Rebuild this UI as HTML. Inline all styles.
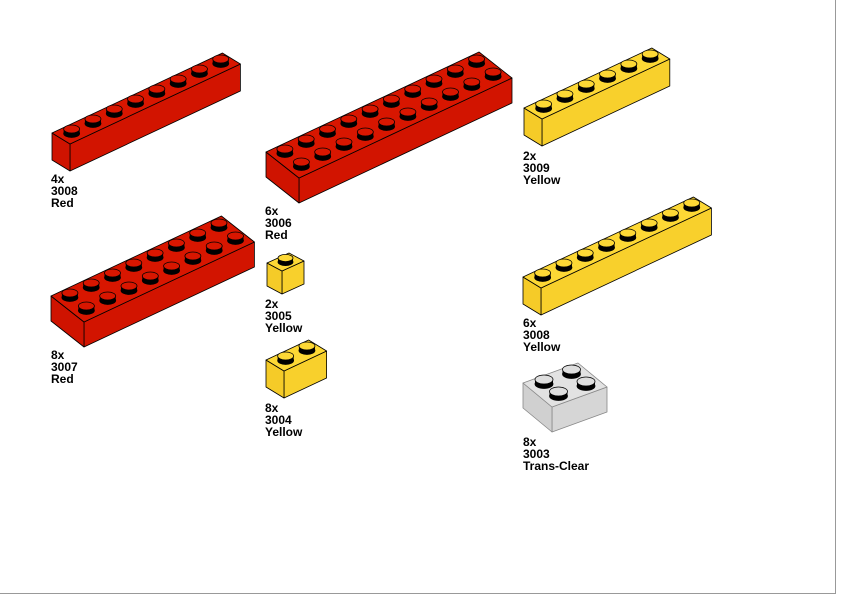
<!DOCTYPE html>
<html><head><meta charset="utf-8">
<style>
html,body{margin:0;padding:0;background:#fff;}
body{width:842px;height:596px;position:relative;overflow:hidden;font-family:"Liberation Sans",sans-serif;}
.lb{position:absolute;font-weight:bold;font-size:12px;line-height:12px;color:#000;}
#frame{position:absolute;left:0;top:0;width:835px;height:593px;border-right:1px solid #999;border-bottom:1px solid #999;}
</style></head><body>
<div id="frame"></div>
<svg id="s" width="842" height="596" style="position:absolute;left:0;top:0"></svg>
<div class="lb" style="left:51px;top:173px">4x<br>3008<br>Red</div>
<div class="lb" style="left:51px;top:349px">8x<br>3007<br>Red</div>
<div class="lb" style="left:265px;top:205px">6x<br>3006<br>Red</div>
<div class="lb" style="left:265px;top:298px">2x<br>3005<br>Yellow</div>
<div class="lb" style="left:265px;top:402px">8x<br>3004<br>Yellow</div>
<div class="lb" style="left:523px;top:150px">2x<br>3009<br>Yellow</div>
<div class="lb" style="left:523px;top:317px">6x<br>3008<br>Yellow</div>
<div class="lb" style="left:523px;top:436px">8x<br>3003<br>Trans-Clear</div>
<script>
var s=document.getElementById('s'),out='';
function p(a){return a.map(function(q){return q[0].toFixed(1)+','+q[1].toFixed(1)}).join(' ');}
function brick(x,y,n,m,top,side,end,o){
 o=o||{};
 var L=o.L||[21.3,-10],W=o.W||[-18,-11],H=o.H||27,rx=o.rx||8,ry=o.ry||4,sh=o.sh||4.5,sc=o.sc||'#000',stt=o.stt||top;
 var T=[x,y-H];
 function add(a,i,j){return [a[0]+i*L[0]+j*W[0],a[1]+i*L[1]+j*W[1]];}
 var g='<g stroke="'+sc+'" stroke-width="0.8" stroke-linejoin="round">';
 g+='<polygon points="'+p([[x,y],add([x,y],n,0),add(T,n,0),T])+'" fill="'+side+'"/>';
 g+='<polygon points="'+p([[x,y],add([x,y],0,m),add(T,0,m),T])+'" fill="'+end+'"/>';
 g+='<polygon points="'+p([T,add(T,n,0),add(T,n,m),add(T,0,m)])+'" fill="'+top+'"/>';
 var st=[];
 for(var i=0;i<n;i++)for(var j=0;j<m;j++)st.push(add(T,i+.5,j+.5));
 st.sort(function(a,b){return a[1]-b[1];});
 st.forEach(function(c){
  g+='<ellipse cx="'+c[0]+'" cy="'+c[1]+'" rx="'+rx+'" ry="'+ry+'" fill="#000" stroke="#000"/>';
  g+='<rect x="'+(c[0]-rx)+'" y="'+(c[1]-sh)+'" width="'+(2*rx)+'" height="'+sh+'" fill="#000" stroke="none"/>';
  g+='<ellipse cx="'+c[0]+'" cy="'+(c[1]-sh)+'" rx="'+rx+'" ry="'+ry+'" fill="'+stt+'" stroke="#000"/>';
 });
 g+='</g>';out+=g;
}
var R=['#d81600','#d21400','#cf1300'],Y=['#fdd835','#f8d02c','#f5cb28'];
var R2={W:[-16.5,-13],H:25};
brick(70,171,8,1,R[0],R[1],R[2]);
brick(84,347,8,2,R[0],R[1],R[2],R2);
brick(299,203,10,2,R[0],R[1],R[2],R2);
brick(542,146,6,1,Y[0],Y[1],Y[2]);
brick(541,315,8,1,Y[0],Y[1],Y[2]);
brick(282,294,1,1,Y[0],Y[1],Y[2],{L:[22,-10],W:[-15,-8],H:23,rx:7.5,ry:3.6,sh:4});
brick(284,398,2,1,Y[0],Y[1],Y[2]);
brick(552,432,2,2,'#e2e2e2','#d6d6d6','#d0d0d0',{L:[27.5,-10],W:[-14.5,-12],H:25,sc:'#888',stt:'#dedede',rx:9,ry:4.5,sh:4.5});
s.innerHTML=out;
</script>
</body></html>
